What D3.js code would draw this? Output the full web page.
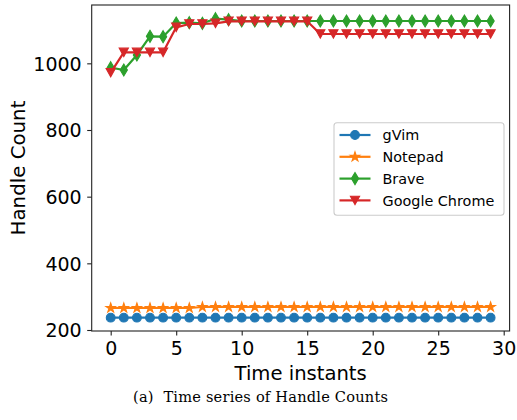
<!DOCTYPE html>
<html>
<head>
<meta charset="utf-8">
<script src="https://cdn.jsdelivr.net/npm/d3@7"></script>
<style>
  html, body { margin: 0; padding: 0; background: #fff; }
  svg { display: block; }
</style>
</head>
<body>
<svg id="chart" width="517" height="420"></svg>
<script>
// Handle counts per time instant for each process
const timeInstants = d3.range(0, 30);
const gvim = Array(30).fill(237);
const notepad = [266, 266, 266, 266, 266, 266, 266,
  269, 269, 269, 269, 269, 269, 269, 269, 269, 269, 269, 269, 269, 269, 269, 269,
  269, 269, 269, 269, 269, 269, 269];
const brave = [987, 980, 1025, 1081, 1080, 1121, 1122, 1120, 1134, 1131,
  1127, 1127, 1127, 1127, 1127, 1127, 1127, 1127, 1127, 1127,
  1127, 1127, 1127, 1127, 1127, 1127, 1127, 1127, 1127, 1127];
const chrome = [972, 1033, 1033, 1033, 1033, 1108, 1118, 1118, 1120, 1126,
  1126, 1126, 1126, 1126, 1126, 1126, 1088, 1088, 1088, 1088,
  1088, 1088, 1088, 1088, 1088, 1088, 1088, 1088, 1088, 1088];
const seriesNames = ["gVim", "Notepad", "Brave", "Google Chrome"];
const seriesColors = ["#1f77b4", "#ff7f0e", "#2ca02c", "#d62728"];
const seriesMarkers = ["circle", "star", "thinDiamond", "triangleDown"];
const xTicks = [0, 5, 10, 15, 20, 25, 30];
const yTicks = [200, 400, 600, 800, 1000];

const series = [gvim, notepad, brave, chrome].map((vals, i) => ({
  name: seriesNames[i], color: seriesColors[i], marker: seriesMarkers[i],
  values: vals.map((v, j) => ({ t: timeInstants[j], v }))
}));

const svg = d3.select("#chart");
const plot = { left: 91.7, right: 509.6, top: 5, bottom: 331 };

const x = d3.scaleLinear().domain([-1.45, 30.45]).range([plot.left, plot.right]);
const y = d3.scaleLinear().domain([197, 1175]).range([plot.bottom, plot.top]);

// marker shapes (centered at 0,0)
function markerPath(kind) {
  if (kind === "circle") {
    const r = 4.4;
    return `M${r},0A${r},${r} 0 1,1 ${-r},0A${r},${r} 0 1,1 ${r},0Z`;
  }
  if (kind === "star") {
    const R = 5.0, r = R * 0.381966;
    let p = "";
    for (let k = 0; k < 10; k++) {
      const a = -Math.PI / 2 + k * Math.PI / 5;
      const rr = k % 2 === 0 ? R : r;
      p += (k === 0 ? "M" : "L") + (rr * Math.cos(a)).toFixed(2) + "," + (rr * Math.sin(a)).toFixed(2);
    }
    return p + "Z";
  }
  if (kind === "thinDiamond") {
    const h = 6.0, w = 3.6;
    return `M0,${-h}L${w},0L0,${h}L${-w},0Z`;
  }
  if (kind === "triangleDown") {
    const w = 4.6, h = 4.2;
    return `M${-w},${-h}L${w},${-h}L0,${h}Z`;
  }
}

// axes frame
const g = svg.append("g");

// x axis
const xAxis = d3.axisBottom(x).tickValues(xTicks).tickSize(4.5).tickPadding(6).tickFormat(d3.format("d"));
const gx = g.append("g").attr("transform", `translate(0,${plot.bottom})`).call(xAxis);
gx.select(".domain").remove();
gx.selectAll(".tick line").attr("stroke", "#222").attr("stroke-width", 1.1);
gx.selectAll(".tick text")
  .attr("font-family", "DejaVu Sans, sans-serif").attr("font-size", 19)
  .attr("fill", "#000").attr("dy", "0.72em");

// y axis
const yAxis = d3.axisLeft(y).tickValues(yTicks).tickSize(4.5).tickPadding(5.5).tickFormat(d3.format("d"));
const gy = g.append("g").attr("transform", `translate(${plot.left},0)`).call(yAxis);
gy.select(".domain").remove();
gy.selectAll(".tick line").attr("stroke", "#222").attr("stroke-width", 1.1);
gy.selectAll(".tick text")
  .attr("font-family", "DejaVu Sans, sans-serif").attr("font-size", 19)
  .attr("fill", "#000").attr("dy", "0.36em");

// data lines and markers, drawn series by series
const line = d3.line().x(d => x(d.t)).y(d => y(d.v));

const dataG = svg.append("g");
series.forEach(s => {
  const sg = dataG.append("g");
  sg.append("path").datum(s.values)
    .attr("d", line).attr("fill", "none")
    .attr("stroke", s.color).attr("stroke-width", 2.2)
    .attr("stroke-linejoin", "round").attr("stroke-linecap", "square");
  sg.selectAll("path.mk").data(s.values).enter().append("path")
    .attr("class", "mk")
    .attr("d", markerPath(s.marker))
    .attr("transform", d => `translate(${x(d.t)},${y(d.v)})`)
    .attr("fill", s.color).attr("stroke", s.color).attr("stroke-width", 1.1)
    .attr("stroke-linejoin", "miter");
});

// spines
svg.append("rect")
  .attr("x", plot.left).attr("y", plot.top)
  .attr("width", plot.right - plot.left).attr("height", plot.bottom - plot.top)
  .attr("fill", "none").attr("stroke", "#222").attr("stroke-width", 1.1);

// axis titles
svg.append("text")
  .attr("x", (plot.left + plot.right) / 2).attr("y", 379.5)
  .attr("text-anchor", "middle")
  .attr("font-family", "DejaVu Sans, sans-serif").attr("font-size", 19.6)
  .text("Time instants");

svg.append("text")
  .attr("transform", `translate(24.5,${(plot.top + plot.bottom) / 2}) rotate(-90)`)
  .attr("text-anchor", "middle")
  .attr("font-family", "DejaVu Sans, sans-serif").attr("font-size", 19.8)
  .text("Handle Count");

// legend
const leg = svg.append("g");
leg.append("rect")
  .attr("x", 334).attr("y", 122.7).attr("width", 170).attr("height", 92.5)
  .attr("rx", 3).attr("ry", 3)
  .attr("fill", "#fff").attr("fill-opacity", 0.8)
  .attr("stroke", "#cccccc").attr("stroke-width", 1.1);

const legRows = [135, 156.8, 178.6, 200.4];
series.forEach((s, i) => {
  const ly = legRows[i];
  leg.append("line")
    .attr("x1", 339.5).attr("x2", 370.5).attr("y1", ly).attr("y2", ly)
    .attr("stroke", s.color).attr("stroke-width", 2.2);
  leg.append("path")
    .attr("d", markerPath(s.marker))
    .attr("transform", `translate(355,${ly})`)
    .attr("fill", s.color).attr("stroke", s.color).attr("stroke-width", 1.1);
  leg.append("text")
    .attr("x", 382.5).attr("y", ly).attr("dy", "0.36em")
    .attr("font-family", "DejaVu Sans, sans-serif").attr("font-size", 14.4)
    .text(s.name);
});

// caption
svg.append("text")
  .attr("x", 260.5).attr("y", 402)
  .attr("text-anchor", "middle")
  .attr("font-family", "DejaVu Serif, serif").attr("font-size", 14.6)
  .attr("xml:space", "preserve")
  .attr("textLength", 255).attr("lengthAdjust", "spacing")
  .text("(a)  Time series of Handle Counts");
</script>
</body>
</html>
